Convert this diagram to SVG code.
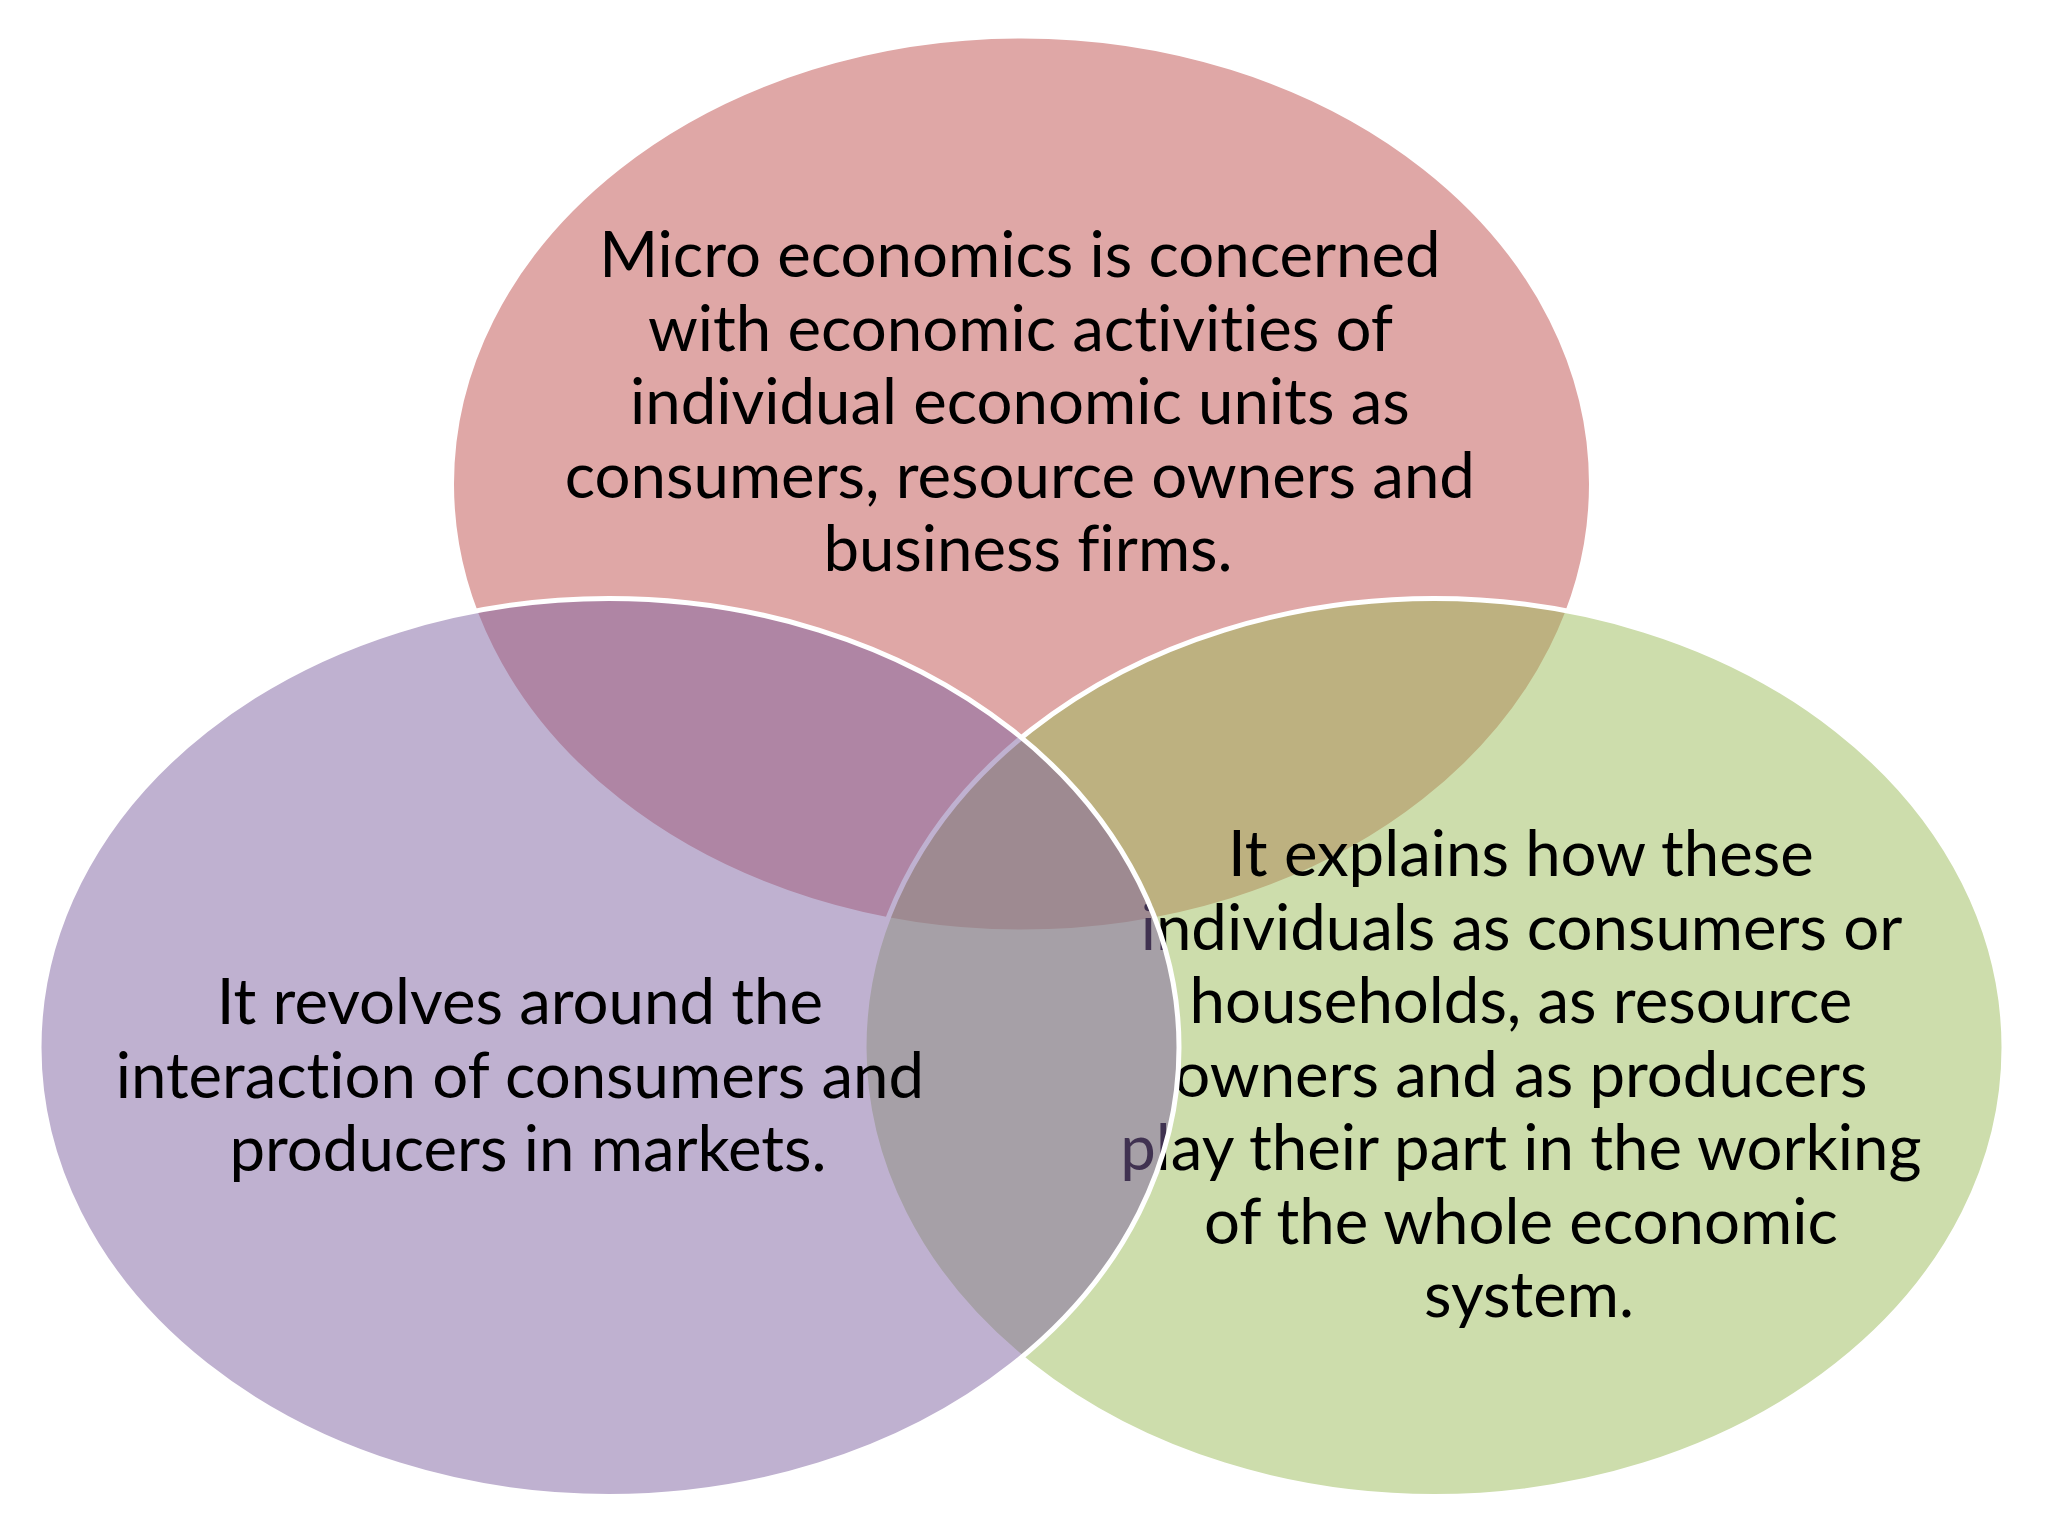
<svg xmlns="http://www.w3.org/2000/svg" width="2048" height="1536" viewBox="0 0 2048 1536">
  <style>
    .circle { stroke: #ffffff; stroke-width: 5; fill-opacity: 0.5; }
    .label { font-family: Lato, "Open Sans", "Liberation Sans", sans-serif; font-size: 63.5px; fill: #000000; text-anchor: middle; font-variant-ligatures: none; font-feature-settings: "liga" 0, "clig" 0; }
  </style>
  <rect x="0" y="0" width="2048" height="1536" fill="#ffffff"/>
  <g id="node-top">
    <ellipse class="circle" cx="1021.5" cy="484" rx="570" ry="448" fill="#C0504D"/>
    <text class="label" x="1028">
      <tspan x="1028" y="277">Micro economics is concerned</tspan>
      <tspan x="1028" y="350.5">with economic activities of</tspan>
      <tspan x="1028" y="424">individual economic units as</tspan>
      <tspan x="1028" y="497.5">consumers, resource owners and</tspan>
      <tspan x="1028" y="571">business firms.</tspan>
    </text>
  </g>
  <g id="node-right">
    <ellipse class="circle" cx="1434" cy="1047.5" rx="570" ry="449" fill="#9BBB59"/>
    <text class="label" x="1529">
      <tspan x="1529" y="876">It explains how these</tspan>
      <tspan x="1529" y="949.5">individuals as consumers or</tspan>
      <tspan x="1529" y="1023">households, as resource</tspan>
      <tspan x="1529" y="1096.5">owners and as producers</tspan>
      <tspan x="1529" y="1170">play their part in the working</tspan>
      <tspan x="1529" y="1243.5">of the whole economic</tspan>
      <tspan x="1529" y="1317">system.</tspan>
    </text>
  </g>
  <g id="node-left">
    <ellipse class="circle" cx="609" cy="1047.5" rx="570" ry="449" fill="#8064A2"/>
    <text class="label" x="528">
      <tspan x="528" y="1024">It revolves around the</tspan>
      <tspan x="528" y="1097.5">interaction of consumers and</tspan>
      <tspan x="528" y="1171">producers in markets.</tspan>
    </text>
  </g>
  <g id="connectors"></g>
</svg>
